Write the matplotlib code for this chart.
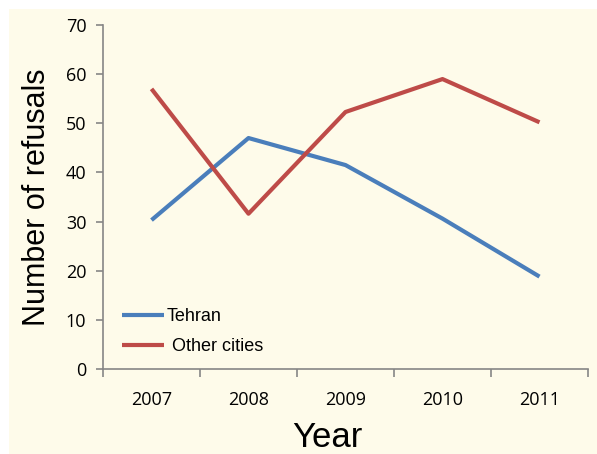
import matplotlib.pyplot as plt
from matplotlib.patches import Rectangle
from matplotlib.ticker import FixedLocator

# data
years = ["2007", "2008", "2009", "2010", "2011"]
tehran = [30.3, 47.0, 41.5, 30.6, 18.8]
other_cities = [57.0, 31.6, 52.3, 59.0, 50.2]

BLUE = "#4A7EBB"
RED = "#BE4B48"
CREAM = "#FEFBEA"
AXIS_GRAY = "#868686"
narrow = ["Liberation Sans", "DejaVu Sans"]

fig = plt.figure(figsize=(5.97, 4.54), dpi=100)
fig.patch.set_facecolor("white")
fig.patches.append(Rectangle((9 / 597, 0), 1, 1 - 9 / 454, transform=fig.transFigure,
                             facecolor=CREAM, edgecolor="none", zorder=-10))

ax = fig.add_axes([103 / 597, 1 - 369 / 454, 485 / 597, 344 / 454])
ax.set_facecolor("none")

x = list(range(len(years)))
ax.plot(x, tehran, color=BLUE, lw=3, label="Tehran", solid_capstyle="butt")
ax.plot(x, other_cities, color=RED, lw=3, label=" Other cities", solid_capstyle="butt")

ax.set_xlim(-0.5, len(years) - 0.5)
ax.set_ylim(0, 70)
ax.set_yticks(range(0, 71, 10))
ax.set_xticks(x)
ax.set_xticklabels(years)
ax.xaxis.set_minor_locator(FixedLocator([i - 0.5 for i in range(len(years) + 1)]))

for s in ["top", "right"]:
    ax.spines[s].set_visible(False)
for s in ["left", "bottom"]:
    ax.spines[s].set_color(AXIS_GRAY)
    ax.spines[s].set_linewidth(1.2)

ax.tick_params(axis="y", direction="out", length=5, width=1.2, color=AXIS_GRAY,
               labelsize=13, pad=7)
ax.tick_params(axis="x", which="major", length=0, labelsize=13, pad=16)
ax.tick_params(axis="x", which="minor", direction="out", length=6, width=1.2,
               color=AXIS_GRAY)
for lab in ax.get_xticklabels() + ax.get_yticklabels():
    lab.set_family(["Open Sans", "DejaVu Sans"])

ax.set_ylabel("Number of refusals", fontsize=22, family=narrow)
ax.yaxis.set_label_coords(-0.105, 0.5)
ax.set_xlabel("Year", fontsize=25, family=narrow)
ax.xaxis.set_label_coords(0.462, -0.15)

ax.legend(loc="upper left", bbox_to_anchor=(0.04, 0.177), frameon=False,
          prop={"family": narrow, "size": 13}, handlelength=2.3,
          handletextpad=0.15, labelspacing=0.72, borderpad=0, borderaxespad=0)

fig.savefig("out.png", dpi=100)
